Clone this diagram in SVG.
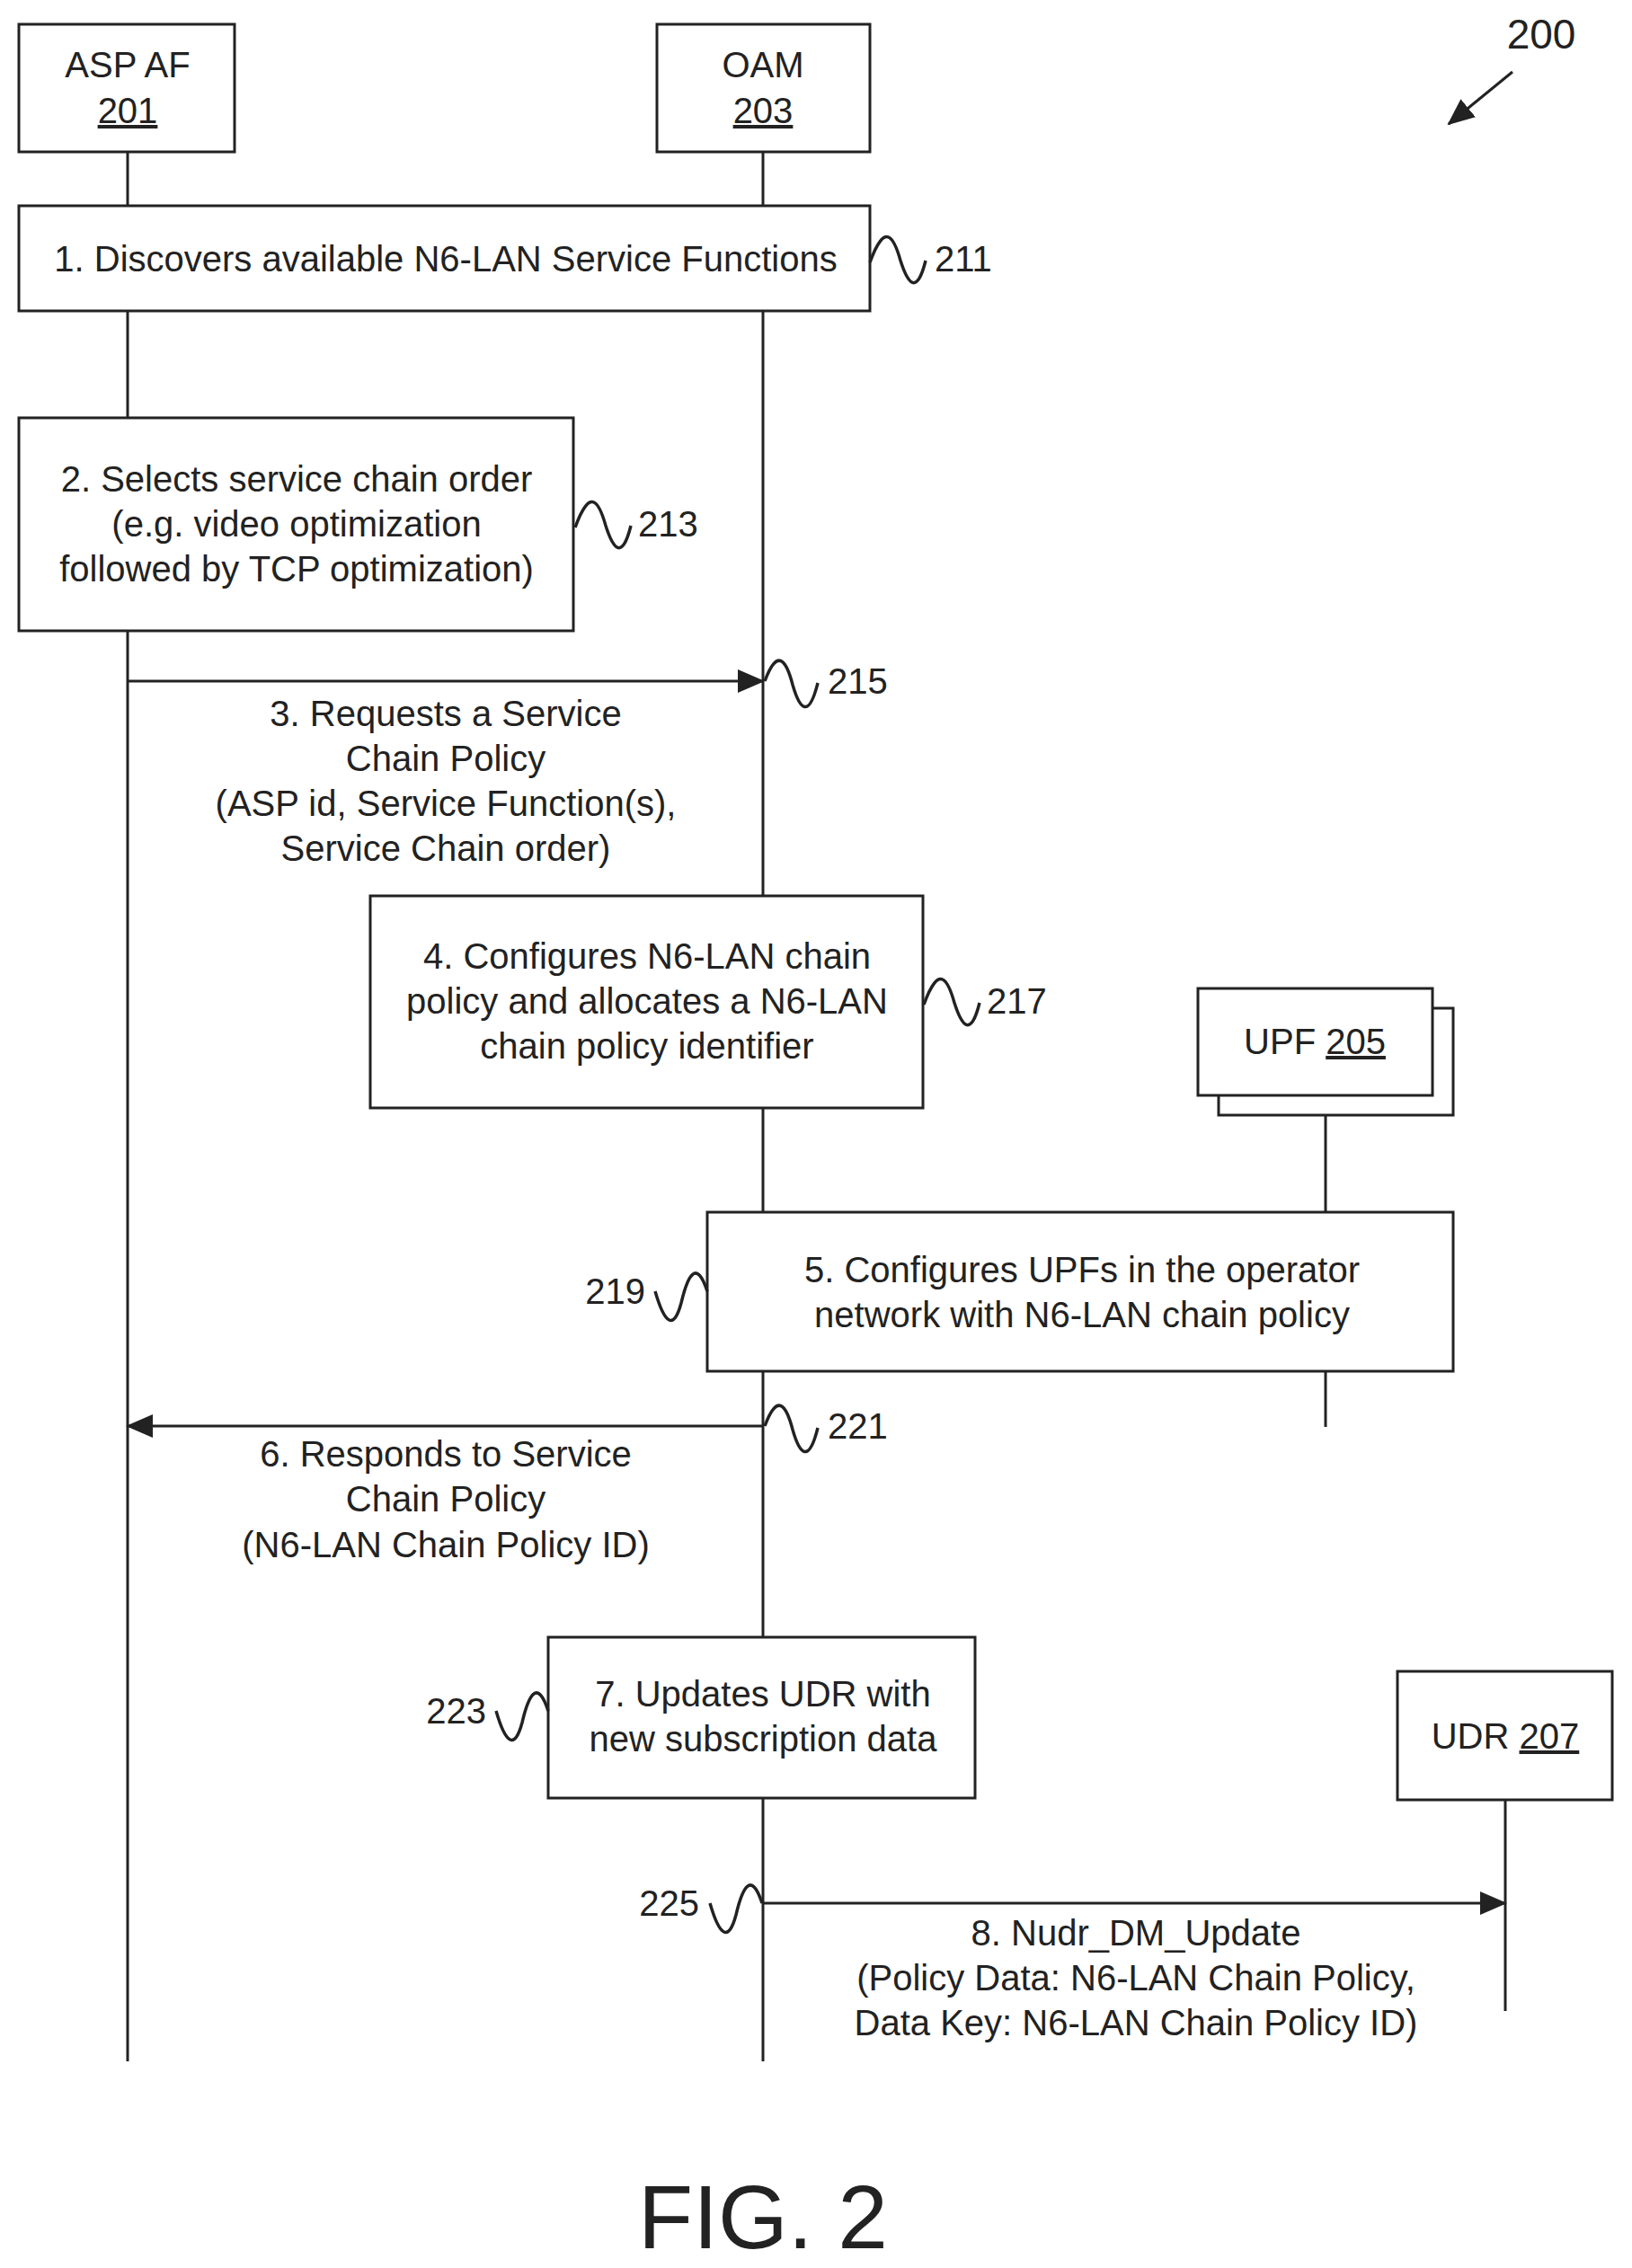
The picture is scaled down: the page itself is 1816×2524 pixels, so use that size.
<svg xmlns="http://www.w3.org/2000/svg" width="1816" height="2524" viewBox="0 0 1816 2524">
<style>
text{font-family:"Liberation Sans",Arial,sans-serif;font-size:40px;fill:#222;text-anchor:middle}
.l{text-anchor:start}.r{text-anchor:end}
rect{fill:#fff;stroke:#222;stroke-width:3}
.ln{stroke:#222;stroke-width:3;fill:none}
.sq{stroke:#222;stroke-width:3.5;fill:none}
</style>
<defs>
<marker id="ah2" markerWidth="30" markerHeight="26" refX="28" refY="13" orient="auto" markerUnits="userSpaceOnUse"><path d="M0,0 L30,13 L0,26 z" fill="#222"/></marker>
</defs>
<g id="lifelines">
<line class="ln" x1="142" y1="169" x2="142" y2="2294"/>
<line class="ln" x1="849" y1="169" x2="849" y2="2294"/>
<line class="ln" x1="1475" y1="1241" x2="1475" y2="1349"/>
<line class="ln" x1="1475" y1="1526" x2="1475" y2="1588"/>
<line class="ln" x1="1675" y1="2003" x2="1675" y2="2238"/>
</g>
<g id="ref200"><text x="1715" y="54" style="font-size:46px">200</text><line class="ln" x1="1683" y1="80" x2="1612" y2="138" marker-end="url(#ah2)"/></g>
<g id="asp"><rect x="21" y="27" width="240" height="142"/><text x="142" y="86">ASP AF</text><text x="142" y="137" text-decoration="underline">201</text></g>
<g id="oam"><rect x="731" y="27" width="237" height="142"/><text x="849" y="86">OAM</text><text x="849" y="137" text-decoration="underline">203</text></g>
<g id="step1"><rect x="21" y="229" width="947" height="117"/><text x="496" y="302">1. Discovers available N6-LAN Service Functions</text>
<path class="sq" d="M968,292 C985,245 995,265 1002,290 C1010,315 1020,330 1030,290"/><text class="l" x="1040" y="302">211</text></g>
<g id="step2"><rect x="21" y="465" width="617" height="237"/><text x="330" y="547">2. Selects service chain order</text><text x="330" y="597">(e.g. video optimization</text><text x="330" y="647">followed by TCP optimization)</text>
<path class="sq" d="M640,587 C657,540 667,560 674,585 C682,610 692,625 702,585"/><text class="l" x="710" y="597">213</text></g>
<g id="upf"><rect x="1356" y="1122" width="261" height="119"/><rect x="1333" y="1100" width="261" height="119"/><text x="1463" y="1173">UPF <tspan text-decoration="underline">205</tspan></text></g>
<g id="step4"><rect x="412" y="997" width="615" height="236"/><text x="720" y="1078">4. Configures N6-LAN chain</text><text x="720" y="1128">policy and allocates a N6-LAN</text><text x="720" y="1178">chain policy identifier</text>
<path class="sq" d="M1028,1118 C1045,1071 1055,1091 1062,1116 C1070,1141 1080,1156 1090,1116"/><text class="l" x="1098" y="1128">217</text></g>
<g id="step5"><rect x="787" y="1349" width="830" height="177"/><text x="1204" y="1427">5. Configures UPFs in the operator</text><text x="1204" y="1477">network with N6-LAN chain policy</text>
<path class="sq" d="M729,1437 C740,1475 750,1480 758,1450 C765,1420 775,1400 787,1437"/><text class="r" x="718" y="1451">219</text></g>
<g id="step7"><rect x="610" y="1822" width="475" height="179"/><text x="849" y="1899">7. Updates UDR with</text><text x="849" y="1949">new subscription data</text>
<path class="sq" d="M552,1904 C563,1942 573,1947 581,1917 C588,1887 598,1867 610,1904"/><text class="r" x="541" y="1918">223</text></g>
<g id="udr"><rect x="1555" y="1860" width="239" height="143"/><text x="1675" y="1946">UDR <tspan text-decoration="underline">207</tspan></text></g>
<g id="connectors">
<line class="ln" x1="142" y1="758" x2="849" y2="758" marker-end="url(#ah2)"/>
<path class="sq" d="M851,758 C865,720 875,735 882,762 C890,790 900,800 910,760"/><text class="l" x="921" y="772">215</text>
<text x="496" y="808">3. Requests a Service</text><text x="496" y="858">Chain Policy</text><text x="496" y="908">(ASP id, Service Function(s),</text><text x="496" y="958">Service Chain order)</text>
<line class="ln" x1="849" y1="1587" x2="142" y2="1587" marker-end="url(#ah2)"/>
<path class="sq" d="M851,1587 C865,1549 875,1564 882,1591 C890,1619 900,1629 910,1589"/><text class="l" x="921" y="1601">221</text>
<text x="496" y="1632">6. Responds to Service</text><text x="496" y="1682">Chain Policy</text><text x="496" y="1733">(N6-LAN Chain Policy ID)</text>
<line class="ln" x1="849" y1="2118" x2="1675" y2="2118" marker-end="url(#ah2)"/>
<path class="sq" d="M790,2118 C801,2156 811,2161 819,2131 C826,2101 836,2081 848,2118"/><text class="r" x="778" y="2132">225</text>
<text x="1264" y="2165">8. Nudr_DM_Update</text><text x="1264" y="2215">(Policy Data: N6-LAN Chain Policy,</text><text x="1264" y="2265">Data Key: N6-LAN Chain Policy ID)</text>
</g>
<text x="849" y="2502" style="font-size:100px">FIG. 2</text>
</svg>
